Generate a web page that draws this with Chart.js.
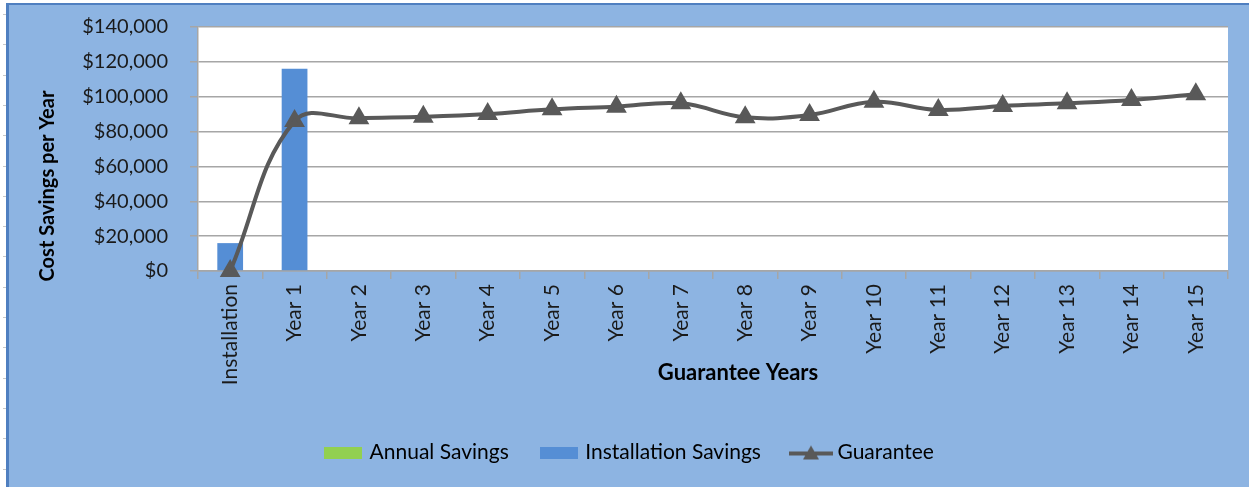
<!DOCTYPE html>
<html>
<head>
<meta charset="utf-8">
<script src="https://cdn.jsdelivr.net/npm/chart.js@4.4.1/dist/chart.umd.min.js"></script>
<style>
    html, body { margin: 0; padding: 0; background: #ffffff; }
    canvas { display: block; }
</style>
</head>
<body>
<canvas id="savingsChart" width="1249" height="487"></canvas>
<script>
// data
let categories = ['Installation', 'Year 1', 'Year 2', 'Year 3', 'Year 4', 'Year 5', 'Year 6', 'Year 7',
    'Year 8', 'Year 9', 'Year 10', 'Year 11', 'Year 12', 'Year 13', 'Year 14', 'Year 15'];
let annualSavings = [null, null, null, null, null, null, null, null, null, null, null, null, null, null, null, null];
let installationSavings = [16000, 116000, null, null, null, null, null, null, null, null, null, null, null, null, null, null];
let guarantee = [0, 86000, 87600, 88500, 90100, 92800, 94300, 96200, 88200, 89500, 97100, 92400, 94700, 96200, 98100, 101400];
let yTicks = [0, 20000, 40000, 60000, 80000, 100000, 120000, 140000];

const FONT = 'Lato';
const BG = '#8db4e2';
const GRID = '#a6a6a6';
const PAD_LEFT = 33;
const AXIS_X = 198;

// little legend swatches
function swatch(w, h, fn) {
    var c = document.createElement('canvas');
    c.width = w; c.height = h;
    fn(c.getContext('2d'));
    return c;
}
var greenBox = swatch(38, 12, (g) => { g.fillStyle = '#92d050'; g.fillRect(0, 0, 38, 12); });
var blueBox = swatch(38, 12, (g) => { g.fillStyle = '#558ed5'; g.fillRect(0, 0, 38, 12); });
var lineMark = swatch(44, 16, (g) => {
    g.strokeStyle = '#595959'; g.lineWidth = 4;
    g.beginPath(); g.moveTo(0, 9); g.lineTo(44, 9); g.stroke();
    g.fillStyle = '#595959';
    g.beginPath(); g.moveTo(22, 1); g.lineTo(30, 15); g.lineTo(14, 15); g.closePath(); g.fill();
});

var backdrop = {
    id: 'backdrop',
    beforeDraw: (chart) => {
        var ctx = chart.ctx, a = chart.chartArea;
        ctx.save();
        ctx.fillStyle = '#ffffff';
        ctx.fillRect(0, 0, chart.width, chart.height);
        // spreadsheet row marks on the far left
        ctx.strokeStyle = '#c8c8c8'; ctx.lineWidth = 1;
        for (var y = 14; y < chart.height; y += 30.3) {
            ctx.beginPath(); ctx.moveTo(3, Math.round(y) + 0.5); ctx.lineTo(7, Math.round(y) + 0.5); ctx.stroke();
        }
        ctx.fillStyle = '#4f7fc0';
        ctx.fillRect(6, 3, chart.width - 6, chart.height - 3);
        ctx.fillStyle = BG;
        ctx.fillRect(9, 5, chart.width - 9, chart.height - 5);
        ctx.fillStyle = '#ffffff';
        ctx.fillRect(a.left, a.top, a.right - a.left, a.bottom - a.top);
        ctx.restore();
    },
    afterDraw: (chart) => {
        // axis titles, placed where the spreadsheet put them
        var ctx = chart.ctx;
        ctx.save();
        ctx.fillStyle = '#000000';
        ctx.textAlign = 'center';
        ctx.textBaseline = 'middle';
        ctx.font = 'bold 22px ' + FONT;
        ctx.fillText('Guarantee Years', 738, 373);
        ctx.translate(48, 186);
        ctx.rotate(-Math.PI / 2);
        ctx.font = 'bold 20px ' + FONT;
        ctx.fillText('Cost Savings per Year', 0, 0);
        ctx.restore();
    }
};

var ctx = document.getElementById('savingsChart').getContext('2d');

var config = {
    data: {
        labels: categories,
        datasets: [
            {
                type: 'line',
                label: 'Guarantee',
                data: guarantee,
                borderColor: '#595959',
                backgroundColor: '#595959',
                borderWidth: 4,
                tension: 0.4,
                pointStyle: 'triangle',
                pointRadius: 8,
                pointBackgroundColor: '#595959',
                pointBorderColor: '#595959',
                clip: false,
                order: 0
            },
            {
                type: 'bar',
                label: 'Annual Savings',
                data: annualSavings,
                backgroundColor: '#92d050',
                grouped: false,
                barPercentage: 0.4,
                categoryPercentage: 1.0,
                order: 1
            },
            {
                type: 'bar',
                label: 'Installation Savings',
                data: installationSavings,
                backgroundColor: '#558ed5',
                grouped: false,
                barPercentage: 0.4,
                categoryPercentage: 1.0,
                order: 2
            }
        ]
    },
    options: {
        responsive: false,
        animation: false,
        devicePixelRatio: 1,
        layout: { autoPadding: false, padding: { left: PAD_LEFT, right: 21, top: 27, bottom: 14 } },
        plugins: {
            tooltip: { enabled: false },
            legend: {
                position: 'bottom',
                labels: {
                    usePointStyle: true,
                    pointStyleWidth: 32,
                    padding: 34,
                    color: '#000000',
                    font: { family: FONT, size: 21 },
                    generateLabels: () => [
                        { text: 'Annual Savings', pointStyle: greenBox, fillStyle: '#92d050', strokeStyle: '#92d050', lineWidth: 0, datasetIndex: 1 },
                        { text: 'Installation Savings', pointStyle: blueBox, fillStyle: '#558ed5', strokeStyle: '#558ed5', lineWidth: 0, datasetIndex: 2 },
                        { text: 'Guarantee', pointStyle: lineMark, fillStyle: '#595959', strokeStyle: '#595959', lineWidth: 0, datasetIndex: 0 }
                    ]
                }
            }
        },
        scales: {
            x: {
                offset: true,
                afterFit: (s) => { s.height = 137; },
                grid: { display: true, drawOnChartArea: false, drawTicks: true, tickLength: 8, color: GRID, lineWidth: 1.5, offset: true },
                border: { display: true, color: GRID, width: 1.5 },
                ticks: {
                    minRotation: 90, maxRotation: 90, padding: 5,
                    color: '#1a1a1a',
                    font: { family: FONT, size: 21 }
                }
            },
            y: {
                min: 0,
                max: 140000,
                afterBuildTicks: (axis) => { axis.ticks = yTicks.map((v) => ({ value: v })); },
                afterFit: (s) => {
                    s.width = AXIS_X - PAD_LEFT;
                    s.paddingTop = 0;
                    s.paddingBottom = 0;
                },
                grid: { color: GRID, lineWidth: 1.5, tickLength: 8 },
                border: { display: true, color: GRID, width: 1.5 },
                ticks: {
                    padding: 22,
                    color: '#1a1a1a',
                    font: { family: FONT, size: 20 },
                    callback: (v) => '$' + v.toLocaleString('en-US')
                }
            }
        }
    },
    plugins: [backdrop]
};

var chart = new Chart(ctx, config);
</script>
</body>
</html>
